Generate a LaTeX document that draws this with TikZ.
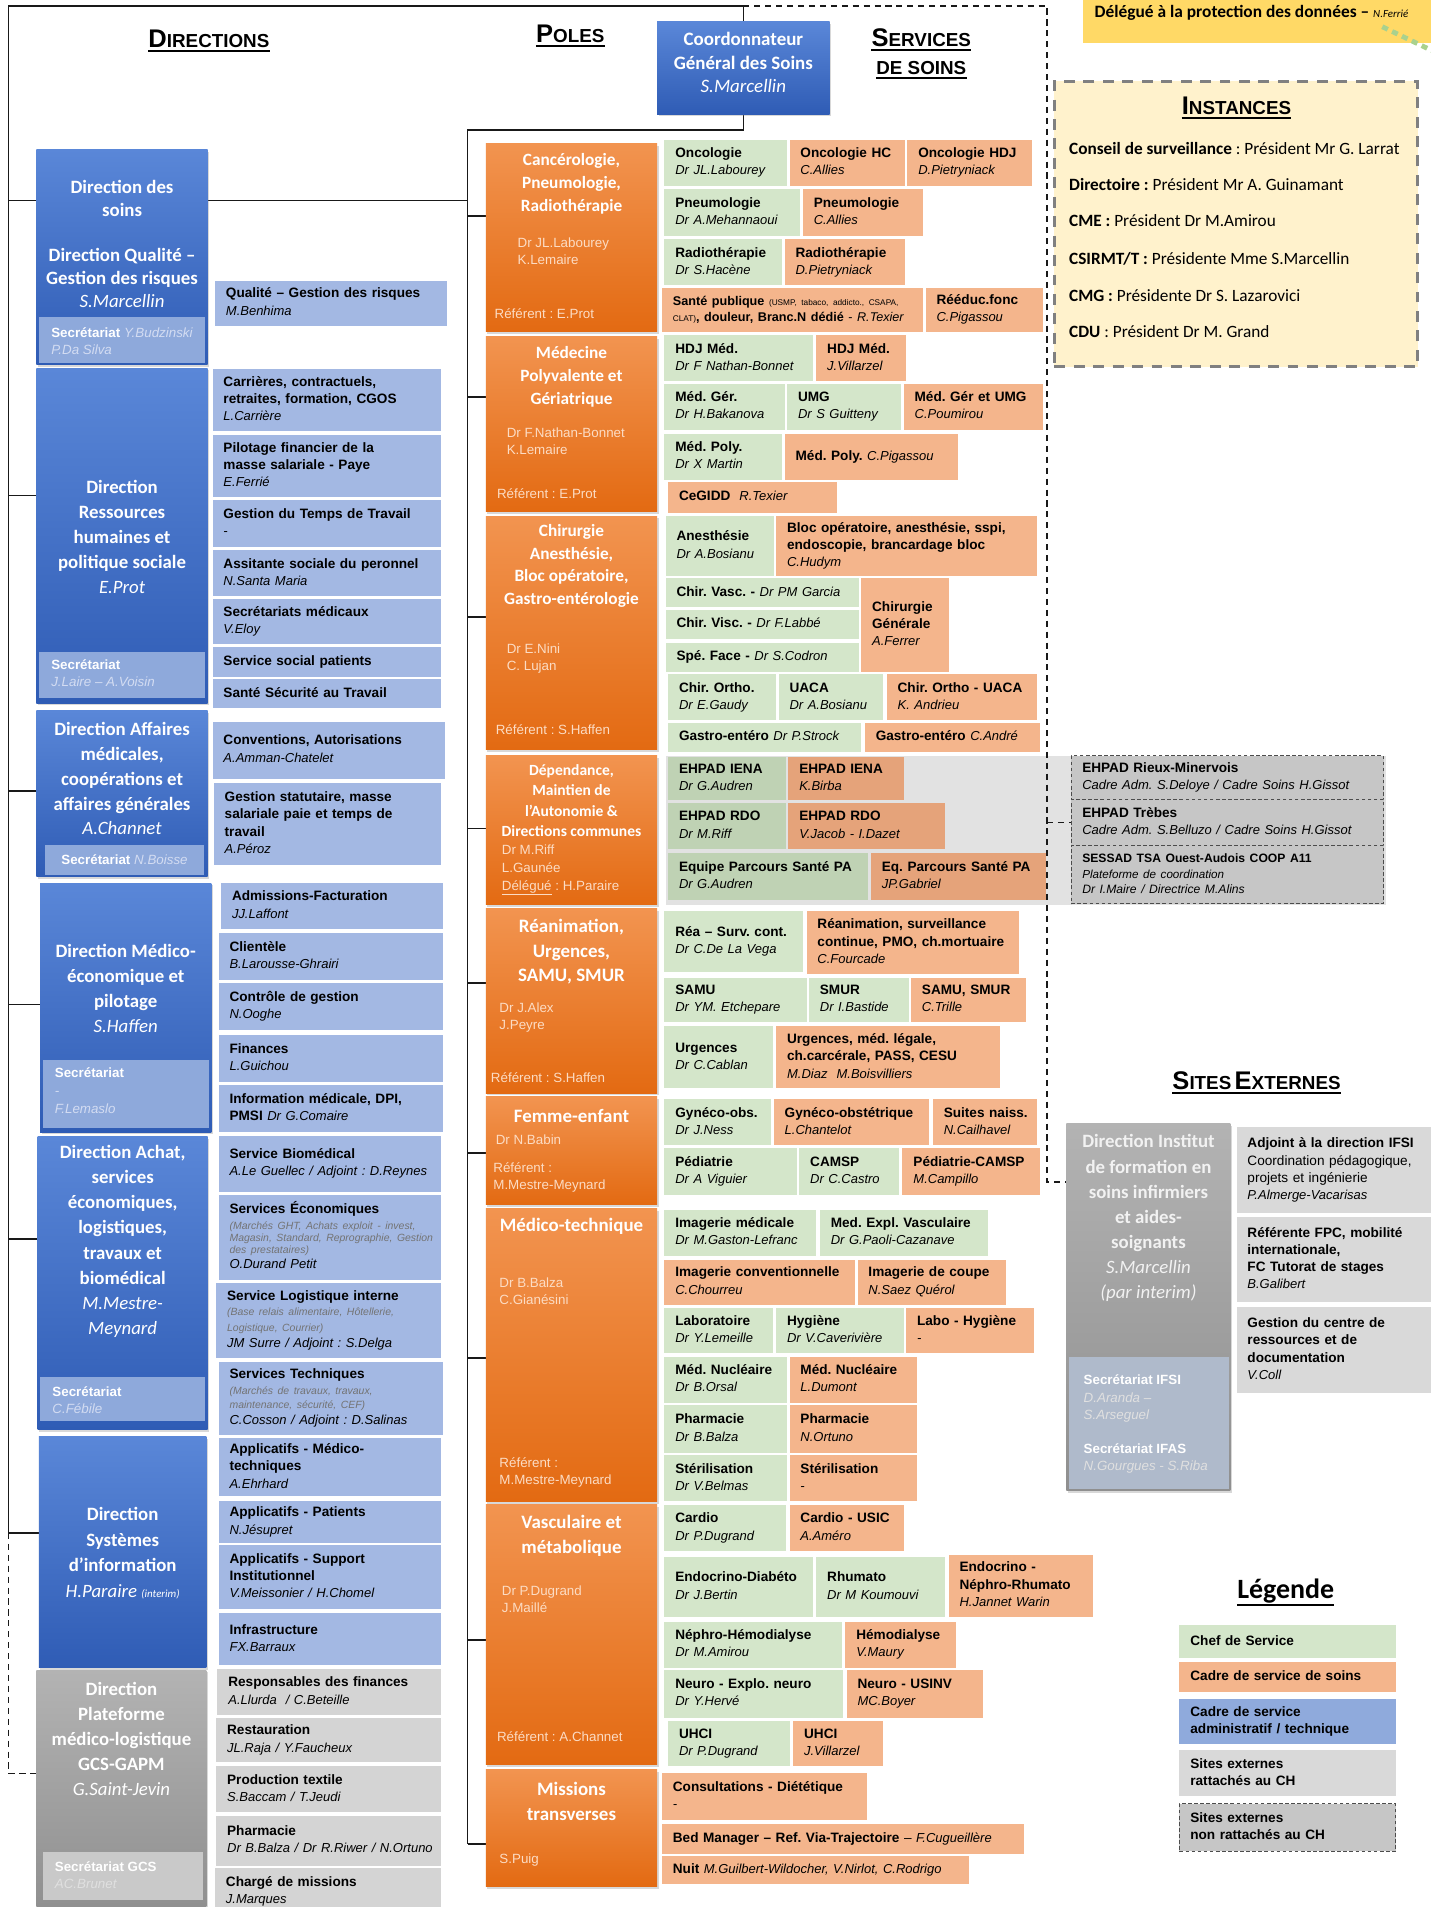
\documentclass[tikz,border=0pt]{standalone}
\usepackage{fontspec}
\setmainfont{Liberation Sans}
\newfontfamily\calib{Carlito}
\usepackage{array}
\usetikzlibrary{backgrounds,shadows}
\frenchspacing
\definecolor{dblueT}{HTML}{5A87D8}
\definecolor{dblueB}{HTML}{2F5CB5}
\definecolor{sblue}{HTML}{A3B8E3}
\definecolor{lblue}{HTML}{8FAADC}
\definecolor{secblue}{HTML}{8EA9DB}
\definecolor{secnm}{HTML}{D3DCF2}
\definecolor{orT}{HTML}{F29450}
\definecolor{orB}{HTML}{E36A12}
\definecolor{pnamec}{HTML}{FCDCC4}
\definecolor{sgreen}{HTML}{D4E6CA}
\definecolor{ssalmon}{HTML}{F4B58C}
\definecolor{sgreenD}{HTML}{BFD2B4}
\definecolor{ssalmonD}{HTML}{E5A37A}
\definecolor{band}{HTML}{E2E2E2}
\definecolor{extgrey}{HTML}{C6C6C6}
\definecolor{sgrey}{HTML}{D4D4D4}
\definecolor{sgrey2}{HTML}{D9D9D9}
\definecolor{gT}{HTML}{B3B3B3}
\definecolor{gB}{HTML}{8F8F8F}
\definecolor{gsec}{HTML}{C9C9C9}
\definecolor{ifsisec}{HTML}{AFBACB}
\definecolor{cream}{HTML}{FFF2CC}
\definecolor{yell}{HTML}{FFD966}
\definecolor{dotgreen}{HTML}{A9D18E}
\newcommand\svcf{\fontsize{11.2}{14.2}\selectfont}
\newcommand\Bx[1]{\textbf{#1}}
\newcommand\Ix[1]{{\fontsize{10.7}{13}\selectfont\itshape #1}}
\newcommand\smg[1]{{\fontsize{8.6}{10}\selectfont\color{black!55}\itshape #1}}
\newcommand\nm[1]{{\mdseries\itshape #1}}
\newcommand\Sx[1]{{\itshape\color{secnm}#1}}
\newcommand\Gx[1]{{\itshape\color{white!88!black}#1}}
\newcommand\hdsc[2]{{\fontsize{21}{21}\selectfont #1}{\fontsize{15.5}{15.5}\selectfont #2}}
\newcommand\svc[7]{%
 \pgfmathsetmacro\bxc{(#2+#3)/2}\pgfmathsetmacro\byc{(#4+#5)/2}%
 \pgfmathsetmacro\bw{#3-#2}\pgfmathsetmacro\bh{#5-#4}\pgfmathsetmacro\btw{#3-#2-18}%
 \node[svcnode, fill=#6, minimum width=\bw pt, minimum height=\bh pt, text width=\btw pt] (#1) at (\bxc,\byc) {\noindent\begin{tabular}{@{}l@{}}#7\end{tabular}};}
\newcommand\bigb[6]{%
 \pgfmathsetmacro\bxc{(#2+#3)/2}\pgfmathsetmacro\byc{(#4+#5)/2}%
 \pgfmathsetmacro\bw{#3-#2}\pgfmathsetmacro\bh{#5-#4}%
 \node[#6, minimum width=\bw pt, minimum height=\bh pt, inner sep=0pt] (#1) at (\bxc,\byc) {};}
\tikzset{
 svcnode/.style={draw=none, inner xsep=9pt, inner ysep=0pt, align=left, font=\svcf},
 shad/.style={drop shadow={shadow xshift=1.2pt, shadow yshift=-1.8pt, opacity=0.3}},
 dirbox/.style={top color=dblueT, bottom color=dblueB, draw=none, shad},
 polebox/.style={top color=orT, bottom color=orB, draw=none, shad},
 greybox/.style={top color=gT, bottom color=gB, draw=none, shad},
 secb/.style={fill=secblue},
 secg/.style={fill=gsec},
 dtit/.style={font=\calib\bfseries\fontsize{15.5}{20.5}\selectfont, text=white, align=center, inner sep=0pt},
 ptit14/.style={dtit, font=\calib\bfseries\fontsize{14.2}{19}\selectfont},
 ptit12/.style={dtit, font=\calib\bfseries\fontsize{12.8}{16.7}\selectfont},
 ptit15/.style={dtit, font=\calib\bfseries\fontsize{15.6}{20.5}\selectfont},
 pnm/.style={font=\fontsize{11}{14}\selectfont, text=pnamec, align=left, inner sep=0pt, anchor=west},
 sect/.style={font=\fontsize{11}{14}\selectfont, text=white, align=left, inner sep=0pt, anchor=west},
 hdr/.style={font=\bfseries, inner sep=0pt},
 uln/.style={line width=1.5pt},
 instbox/.style={fill=cream, draw=black!50, line width=2.4pt, dash pattern=on 9pt off 7pt},
 instl/.style={anchor=west, inner sep=0pt, font=\calib\fontsize{14.2}{17}\selectfont},
 extb/.style={draw=black!70, dash pattern=on 3pt off 2pt, line width=0.9pt},
 conn/.style={line width=1.4pt, black!90},
 dconn/.style={line width=1.2pt, black!90, dash pattern=on 5pt off 4pt},
}
\begin{document}
\begin{tikzpicture}[x=1pt,y=-1pt]
\useasboundingbox (0,0) rectangle (1178,1570);
% ---------- headers
\node[hdr] (hdir) at (172,32) {\hdsc{D}{IRECTIONS}};
\node[hdr] (hpol) at (469.5,28) {\hdsc{P}{OLES}};
\node[hdr] (hser) at (758.5,31) {\hdsc{S}{ERVICES}};
\node[hdr, font=\bfseries\fontsize{15.5}{15.5}\selectfont] (hdes) at (758.5,56) {DE SOINS};
\draw[uln] ([yshift=-2.5pt]hdir.south west) -- ([yshift=-2.5pt]hdir.south east);
\draw[uln] ([yshift=-2.5pt]hpol.south west) -- ([yshift=-2.5pt]hpol.south east);
\draw[uln] ([yshift=-2.5pt]hser.south west) -- ([yshift=-2.5pt]hser.south east);
\draw[uln] ([yshift=-2.5pt]hdes.south west) -- ([yshift=-2.5pt]hdes.south east);
% ---------- coordonnateur
\bigb{coord}{541}{683}{18}{94}{dirbox}
\node[dtit, font=\calib\bfseries\fontsize{15.6}{19.5}\selectfont] (coordT) at (612,51.5) {Coordonnateur\\Général des Soins\\\nm{S.Marcellin}};
% ---------- directions
\bigb{dsoins}{30}{171}{123}{300}{dirbox}
\bigb{dsoinsS}{32}{169}{261}{299}{secb}
\node[dtit, font=\calib\bfseries\fontsize{15.5}{19}\selectfont] (dsoinsT) at (100.5,163.5) {Direction des\\soins};
\node[dtit, font=\calib\bfseries\fontsize{15.5}{19}\selectfont] (dsoinsQ) at (100.5,229) {Direction Qualité –\\Gestion des risques\\\nm{S.Marcellin}};
\node[sect] (dsoinsST) at (42,281) {\textbf{Secrétariat} \Sx{Y.Budzinski}\\\Sx{P.Da Silva}};

\bigb{drh}{30}{171}{303}{579}{dirbox}
\bigb{drhS}{32}{169}{537}{575}{secb}
\node[dtit] (drhT) at (100.5,442) {Direction\\Ressources\\humaines et\\politique sociale\\\nm{E.Prot}};
\node[sect] (drhST) at (42,554.5) {\textbf{Secrétariat}\\\Sx{J.Laire – A.Voisin}};

\bigb{daff}{30}{171}{585}{722}{dirbox}
\bigb{daffS}{37}{168}{696}{720}{secb}
\node[dtit] (daffT) at (100.5,641) {Direction Affaires\\médicales,\\coopérations et\\affaires générales\\\nm{A.Channet}};
\node[sect, anchor=center] (daffST) at (102.5,708) {\textbf{Secrétariat} \Sx{N.Boisse}};

\bigb{dmed}{33}{174}{727}{932}{dirbox}
\bigb{dmedS}{35}{172}{873}{929}{secb}
\node[dtit] (dmedT) at (103.5,814) {Direction Médico-\\économique et\\pilotage\\\nm{S.Haffen}};
\node[sect, font=\fontsize{11}{15}\selectfont] (dmedST) at (45,898) {\textbf{Secrétariat}\\\Sx{-}\\\Sx{F.Lemaslo}};

\bigb{dach}{31}{171}{936}{1177}{dirbox}
\bigb{dachS}{33}{169}{1134}{1170}{secb}
\node[dtit, font=\calib\bfseries\fontsize{15.5}{20.6}\selectfont] (dachT) at (101,1022) {Direction Achat,\\services\\économiques,\\logistiques,\\travaux et\\biomédical\\\nm{M.Mestre-}\\\nm{Meynard}};
\node[sect] (dachST) at (43,1153) {\textbf{Secrétariat}\\\Sx{C.Fébile}};

\bigb{dsi}{32}{170}{1183}{1373}{dirbox}
\node[dtit, font=\calib\bfseries\fontsize{15.5}{21}\selectfont] (dsiT) at (101,1278.5) {Direction\\Systèmes\\d’information\\\nm{H.Paraire {\fontsize{9}{9}\selectfont (interim)}}};

\bigb{dgcs}{30}{170}{1375}{1575}{greybox}
\bigb{dgcsS}{35}{167}{1525}{1564}{secg}
\node[dtit, font=\calib\bfseries\fontsize{15.5}{20.7}\selectfont] (dgcsT) at (100,1431.5) {Direction\\Plateforme\\médico-logistique\\GCS-GAPM\\\nm{G.Saint-Jevin}};
\node[sect] (dgcsST) at (45,1544) {\textbf{Secrétariat GCS}\\\Gx{AC.Brunet}};

% ---------- direction services
\svc{q1}{177}{368}{231}{268}{sblue}{\Bx{Qualité – Gestion des risques}\\\Ix{M.Benhima}}
\svc{rh1}{175}{363}{304}{355}{sblue}{\Bx{Carrières, contractuels,}\\\Bx{retraites, formation, CGOS}\\\Ix{L.Carrière}}
\svc{rh2}{175}{363}{358}{409}{sblue}{\Bx{Pilotage financier de la}\\\Bx{masse salariale - Paye}\\\Ix{E.Ferrié}}
\svc{rh3}{175}{363}{412}{450}{sblue}{\Bx{Gestion du Temps de Travail}\\\Ix{-}}
\svc{rh4}{175}{363}{453}{491}{sblue}{\Bx{Assitante sociale du peronnel}\\\Ix{N.Santa Maria}}
\svc{rh5}{175}{363}{493}{530}{sblue}{\Bx{Secrétariats médicaux}\\\Ix{V.Eloy}}
\svc{rh6}{175}{363}{533}{557}{sblue}{\Bx{Service social patients}}
\svc{rh7}{175}{363}{559}{583}{sblue}{\Bx{Santé Sécurité au Travail}}
\svc{af1}{175}{366}{594}{641}{sblue}{\Bx{Conventions, Autorisations}\\\Ix{A.Amman-Chatelet}}
\svc{af2}{176}{363}{645}{712}{sblue}{\Bx{Gestion statutaire, masse}\\\Bx{salariale paie et temps de}\\\Bx{travail}\\\Ix{A.Péroz}}
\svc{me1}{182}{365}{727}{765}{sblue}{\Bx{Admissions-Facturation}\\\Ix{JJ.Laffont}}
\svc{me2}{180}{365}{768}{807}{sblue}{\Bx{Clientèle}\\\Ix{B.Larousse-Ghrairi}}
\svc{me3}{180}{365}{809}{848}{sblue}{\Bx{Contrôle de gestion}\\\Ix{N.Ooghe}}
\svc{me4}{180}{365}{852}{891}{sblue}{\Bx{Finances}\\\Ix{L.Guichou}}
\svc{me5}{180}{365}{893}{932}{sblue}{\Bx{Information médicale, DPI,}\\\Bx{PMSI} \Ix{Dr G.Comaire}}
\svc{ac1}{180}{363}{935}{981}{sblue}{\Bx{Service Biomédical}\\\Ix{A.Le Guellec / Adjoint : D.Reynes}}
\svc{ac2}{180}{363}{984}{1054}{sblue}{\Bx{Services Économiques}\\[-1.5pt]\smg{(Marchés GHT, Achats exploit - invest,}\\[-4.2pt]\smg{Magasin, Standard, Reprographie, Gestion}\\[-4.2pt]\smg{des prestataires)}\\[-1.5pt]\Ix{O.Durand Petit}}
\svc{ac3}{178}{363}{1056}{1118}{sblue}{\Bx{Service Logistique interne}\\[-1.2pt]\smg{(Base relais alimentaire, Hôtellerie,}\\[-1.2pt]\smg{Logistique, Courrier)}\\[-1.2pt]\Ix{JM Surre / Adjoint : S.Delga}}
\svc{ac4}{180}{365}{1121}{1181}{sblue}{\Bx{Services Techniques}\\[-1.2pt]\smg{(Marchés de travaux, travaux,}\\[-2pt]\smg{maintenance, sécurité, CEF)}\\[-1.2pt]\Ix{C.Cosson / Adjoint : D.Salinas}}
\svc{si1}{180}{363}{1184}{1232}{sblue}{\Bx{Applicatifs - Médico-}\\\Bx{techniques}\\\Ix{A.Ehrhard}}
\svc{si2}{180}{363}{1236}{1270}{sblue}{\Bx{Applicatifs - Patients}\\\Ix{N.Jésupret}}
\svc{si3}{180}{363}{1272}{1325}{sblue}{\Bx{Applicatifs - Support}\\\Bx{Institutionnel}\\\Ix{V.Meissonier / H.Chomel}}
\svc{si4}{180}{363}{1328}{1371}{sblue}{\Bx{Infrastructure}\\\Ix{FX.Barraux}}
\svc{g1}{179}{363}{1374}{1412}{sgrey}{\Bx{Responsables des finances}\\\Ix{A.Llurda \ / C.Beteille}}
\svc{g2}{178}{363}{1414}{1451}{sgrey}{\Bx{Restauration}\\\Ix{JL.Raja / Y.Faucheux}}
\svc{g3}{178}{363}{1454}{1492}{sgrey}{\Bx{Production textile}\\\Ix{S.Baccam / T.Jeudi}}
\svc{g4}{178}{363}{1495}{1536}{sgrey}{\Bx{Pharmacie}\\\Ix{Dr B.Balza / Dr R.Riwer / N.Ortuno}}
\svc{g5}{177}{363}{1538}{1577}{sgrey}{\Bx{Chargé de missions}\\\Ix{J.Marques}}

% ---------- poles
\bigb{pcan}{400}{541}{118}{273}{polebox}
\node[ptit14] (pcanT) at (470.5,151) {Cancérologie,\\Pneumologie,\\Radiothérapie};
\node[pnm] (pcanN) at (426,207) {Dr JL.Labourey\\K.Lemaire};
\node[pnm] (pcanR) at (407,258) {Référent : E.Prot};

\bigb{pmed}{400}{541}{277}{421}{polebox}
\node[ptit14] (pmedT) at (470.5,310) {Médecine\\Polyvalente et\\Gériatrique};
\node[pnm] (pmedN) at (417,363) {Dr F.Nathan-Bonnet\\K.Lemaire};
\node[pnm] (pmedR) at (409,406) {Référent : E.Prot};

\bigb{pchi}{400}{541}{425}{617}{polebox}
\node[ptit14, font=\calib\bfseries\fontsize{14.2}{18.7}\selectfont] (pchiT) at (470.5,466) {Chirurgie\\Anesthésie,\\Bloc opératoire,\\Gastro-entérologie};
\node[pnm] (pchiN) at (417,542) {Dr E.Nini\\C. Lujan};
\node[pnm] (pchiR) at (408,601) {Référent : S.Haffen};

\bigb{pdep}{400}{541}{622}{745}{polebox}
\node[ptit12] (pdepT) at (470.5,659) {Dépendance,\\Maintien de\\l’Autonomie \&\\Directions communes};
\node[pnm, font=\fontsize{11}{14.5}\selectfont] (pdepN) at (413,716.5) {Dr M.Riff\\L.Gaunée\\\underline{Délégué} : H.Paraire};

\bigb{prea}{400}{541}{748}{900}{polebox}
\node[ptit15] (preaT) at (470.5,783.5) {Réanimation,\\Urgences,\\SAMU, SMUR};
\node[pnm] (preaN) at (411,838) {Dr J.Alex\\J.Peyre};
\node[pnm] (preaR) at (404,887) {Référent : S.Haffen};

\bigb{pfem}{400}{541}{903}{992}{polebox}
\node[ptit15] (pfemT) at (470.5,919) {Femme-enfant};
\node[pnm] (pfemN) at (408,938) {Dr N.Babin};
\node[pnm] (pfemR) at (406,969) {Référent :\\M.Mestre-Meynard};

\bigb{pmt}{400}{541}{995}{1236}{polebox}
\node[ptit15] (pmtT) at (470.5,1010) {Médico-technique};
\node[pnm] (pmtN) at (411,1063) {Dr B.Balza\\C.Gianésini};
\node[pnm] (pmtR) at (411,1212) {Référent :\\M.Mestre-Meynard};

\bigb{pvas}{400}{541}{1239}{1453}{polebox}
\node[ptit15, font=\calib\bfseries\fontsize{15.6}{21}\selectfont] (pvasT) at (470.5,1264.5) {Vasculaire et\\métabolique};
\node[pnm] (pvasN) at (413,1316.5) {Dr P.Dugrand\\J.Maillé};
\node[pnm] (pvasR) at (409,1430) {Référent : A.Channet};

\bigb{pmis}{400}{541}{1457}{1553}{polebox}
\node[ptit15, font=\calib\bfseries\fontsize{15.6}{20}\selectfont] (pmisT) at (470.5,1483) {Missions\\transverses};
\node[pnm] (pmisN) at (411,1531) {S.Puig};

% ---------- services de soins
\svc{onc1}{547}{648}{115}{153}{sgreen}{\Bx{Oncologie}\\\Ix{Dr JL.Labourey}}
\svc{onc2}{650}{745}{115}{153}{ssalmon}{\Bx{Oncologie HC}\\\Ix{C.Allies}}
\svc{onc3}{747}{850}{115}{153}{ssalmon}{\Bx{Oncologie HDJ}\\\Ix{D.Pietryniack}}
\svc{pne1}{547}{659}{156}{194}{sgreen}{\Bx{Pneumologie}\\\Ix{Dr A.Mehannaoui}}
\svc{pne2}{661}{760}{156}{194}{ssalmon}{\Bx{Pneumologie}\\\Ix{C.Allies}}
\svc{rad1}{547}{644}{197}{235}{sgreen}{\Bx{Radiothérapie}\\\Ix{Dr S.Hacène}}
\svc{rad2}{646}{745}{197}{235}{ssalmon}{\Bx{Radiothérapie}\\\Ix{D.Pietryniack}}
\svc{sp1}{545}{760}{237}{273}{ssalmon}{{\fontsize{10.4}{13}\selectfont\bfseries Santé publique} {\fontsize{6.8}{8}\selectfont (USMP, tabaco, addicto., CSAPA,}\\[-1.2pt]{\fontsize{6.8}{8}\selectfont CLAT)}{\fontsize{10.4}{13}\selectfont\bfseries , douleur, Branc.N dédié} {\fontsize{10.4}{13}\selectfont - \itshape R.Texier}}
\svc{ree}{762}{859}{237}{273}{ssalmon}{\Bx{Rééduc.fonc}\\\Ix{C.Pigassou}}
\svc{hdj1}{547}{669}{276}{314}{sgreen}{\Bx{HDJ Méd.}\\\Ix{Dr F Nathan-Bonnet}}
\svc{hdj2}{672}{746}{276}{314}{ssalmon}{\Bx{HDJ Méd.}\\\Ix{J.Villarzel}}
\svc{mg1}{547}{646}{316}{354}{sgreen}{\Bx{Méd. Gér.}\\\Ix{Dr H.Bakanova}}
\svc{umg}{648}{742}{316}{354}{sgreen}{\Bx{UMG}\\\Ix{Dr S Guitteny}}
\svc{mg2}{744}{859}{316}{354}{ssalmon}{\Bx{Méd. Gér et UMG}\\\Ix{C.Poumirou}}
\svc{mp1}{547}{644}{357}{395}{sgreen}{\Bx{Méd. Poly.}\\\Ix{Dr X Martin}}
\svc{mp2}{646}{789}{357}{395}{ssalmon}{\Bx{Méd. Poly.} \Ix{C.Pigassou}}
\svc{ceg}{550}{689}{397}{422}{ssalmon}{\Bx{CeGIDD} \ \Ix{R.Texier}}
\svc{ane}{548}{637}{425}{474}{sgreen}{\Bx{Anesthésie}\\\Ix{Dr A.Bosianu}}
\svc{bloc}{639}{854}{425}{474}{ssalmon}{\Bx{Bloc opératoire, anesthésie, sspi,}\\\Bx{endoscopie, brancardage bloc}\\\Ix{C.Hudym}}
\svc{cvasc}{548}{707}{476}{500}{sgreen}{\Bx{Chir. Vasc. -} \Ix{Dr PM Garcia}}
\svc{cvisc}{548}{707}{502}{526}{sgreen}{\Bx{Chir. Visc. -} \Ix{Dr F.Labbé}}
\svc{spef}{548}{707}{529}{553}{sgreen}{\Bx{Spé. Face -} \Ix{Dr S.Codron}}
\svc{cgen}{709}{781}{476}{553}{ssalmon}{\Bx{Chirurgie}\\\Bx{Générale}\\\Ix{A.Ferrer}}
\svc{cor1}{550}{639}{555}{593}{sgreen}{\Bx{Chir. Ortho.}\\\Ix{Dr E.Gaudy}}
\svc{uaca}{641}{727}{555}{593}{sgreen}{\Bx{UACA}\\\Ix{Dr A.Bosianu}}
\svc{cor2}{730}{854}{555}{593}{ssalmon}{\Bx{Chir. Ortho - UACA}\\\Ix{K. Andrieu}}
\svc{gas1}{550}{709}{595}{619}{sgreen}{\Bx{Gastro-entéro} \Ix{Dr P.Strock}}
\svc{gas2}{712}{856}{595}{619}{ssalmon}{\Bx{Gastro-entéro} \Ix{C.André}}
\svc{eh1}{550}{647}{623}{659}{sgreenD}{\Bx{EHPAD IENA}\\\Ix{Dr G.Audren}}
\svc{eh2}{649}{744}{623}{659}{ssalmonD}{\Bx{EHPAD IENA}\\\Ix{K.Birba}}
\svc{eh3}{550}{647}{661}{699}{sgreenD}{\Bx{EHPAD RDO}\\\Ix{Dr M.Riff}}
\svc{eh4}{649}{778}{661}{699}{ssalmonD}{\Bx{EHPAD RDO}\\\Ix{V.Jacob - I.Dazet}}
\svc{eps1}{550}{715}{702}{741}{sgreenD}{\Bx{Equipe Parcours Santé PA}\\\Ix{Dr G.Audren}}
\svc{eps2}{717}{861}{702}{741}{ssalmonD}{\Bx{Eq. Parcours Santé PA}\\\Ix{JP.Gabriel}}
\svc{rea1}{547}{661}{750}{800}{sgreen}{\Bx{Réa – Surv. cont.}\\\Ix{Dr C.De La Vega}}
\svc{rea2}{664}{839}{750}{802}{ssalmon}{\Bx{Réanimation, surveillance}\\\Bx{continue, PMO, ch.mortuaire}\\\Ix{C.Fourcade}}
\svc{samu1}{547}{664}{805}{841}{sgreen}{\Bx{SAMU}\\\Ix{Dr YM. Etchepare}}
\svc{smur}{666}{748}{805}{841}{sgreen}{\Bx{SMUR}\\\Ix{Dr I.Bastide}}
\svc{samu2}{750}{845}{805}{841}{ssalmon}{\Bx{SAMU, SMUR}\\\Ix{C.Trille}}
\svc{urg1}{547}{636}{845}{896}{sgreen}{\Bx{Urgences}\\\Ix{Dr C.Cablan}}
\svc{urg2}{639}{823}{845}{896}{ssalmon}{\Bx{Urgences, méd. légale,}\\\Bx{ch.carcérale, PASS, CESU}\\\Ix{M.Diaz \ M.Boisvilliers}}
\svc{gyn1}{547}{635}{905}{943}{sgreen}{\Bx{Gynéco-obs.}\\\Ix{Dr J.Ness}}
\svc{gyn2}{637}{765}{905}{943}{ssalmon}{\Bx{Gynéco-obstétrique}\\\Ix{L.Chantelot}}
\svc{sui}{768}{854}{905}{943}{ssalmon}{\Bx{Suites naiss.}\\\Ix{N.Cailhavel}}
\svc{ped1}{547}{656}{945}{984}{sgreen}{\Bx{Pédiatrie}\\\Ix{Dr A Viguier}}
\svc{cam}{658}{740}{945}{984}{sgreen}{\Bx{CAMSP}\\\Ix{Dr C.Castro}}
\svc{ped2}{743}{856}{945}{984}{ssalmon}{\Bx{Pédiatrie-CAMSP}\\\Ix{M.Campillo}}
\svc{img1}{547}{672}{996}{1034}{sgreen}{\Bx{Imagerie médicale}\\\Ix{Dr M.Gaston-Lefranc}}
\svc{mev}{675}{813}{996}{1034}{sgreen}{\Bx{Med. Expl. Vasculaire}\\\Ix{Dr G.Paoli-Cazanave}}
\svc{img2}{547}{704}{1037}{1074}{ssalmon}{\Bx{Imagerie conventionnelle}\\\Ix{C.Chourreu}}
\svc{img3}{706}{828}{1037}{1074}{ssalmon}{\Bx{Imagerie de coupe}\\\Ix{N.Saez Quérol}}
\svc{lab}{547}{636}{1077}{1114}{sgreen}{\Bx{Laboratoire}\\\Ix{Dr Y.Lemeille}}
\svc{hyg}{639}{744}{1077}{1114}{sgreen}{\Bx{Hygiène}\\\Ix{Dr V.Caverivière}}
\svc{labh}{746}{851}{1077}{1114}{ssalmon}{\Bx{Labo - Hygiène}\\\Ix{-}}
\svc{nuc1}{547}{648}{1117}{1155}{sgreen}{\Bx{Méd. Nucléaire}\\\Ix{Dr B.Orsal}}
\svc{nuc2}{650}{755}{1117}{1155}{ssalmon}{\Bx{Méd. Nucléaire}\\\Ix{L.Dumont}}
\svc{ph1}{547}{648}{1157}{1196}{sgreen}{\Bx{Pharmacie}\\\Ix{Dr B.Balza}}
\svc{ph2}{650}{755}{1157}{1196}{ssalmon}{\Bx{Pharmacie}\\\Ix{N.Ortuno}}
\svc{ste1}{547}{648}{1198}{1236}{sgreen}{\Bx{Stérilisation}\\\Ix{Dr V.Belmas}}
\svc{ste2}{650}{755}{1198}{1236}{ssalmon}{\Bx{Stérilisation}\\\Ix{-}}
\svc{car1}{547}{647}{1239}{1277}{sgreen}{\Bx{Cardio}\\\Ix{Dr P.Dugrand}}
\svc{car2}{650}{744}{1239}{1277}{ssalmon}{\Bx{Cardio - USIC}\\\Ix{A.Améro}}
\svc{end1}{547}{669}{1282}{1331}{sgreen}{\Bx{Endocrino-Diabéto}\\\Ix{Dr J.Bertin}}
\svc{rhu}{672}{778}{1282}{1331}{sgreen}{\Bx{Rhumato}\\\Ix{Dr M Koumouvi}}
\svc{end2}{781}{900}{1280}{1331}{ssalmon}{\Bx{Endocrino -}\\\Bx{Néphro-Rhumato}\\\Ix{H.Jannet Warin}}
\svc{nep1}{547}{693}{1335}{1373}{sgreen}{\Bx{Néphro-Hémodialyse}\\\Ix{Dr M.Amirou}}
\svc{nep2}{696}{787}{1335}{1373}{ssalmon}{\Bx{Hémodialyse}\\\Ix{V.Maury}}
\svc{neu1}{547}{694}{1375}{1414}{sgreen}{\Bx{Neuro - Explo. neuro}\\\Ix{Dr Y.Hervé}}
\svc{neu2}{697}{809}{1375}{1414}{ssalmon}{\Bx{Neuro - USINV}\\\Ix{MC.Boyer}}
\svc{uhc1}{550}{650}{1417}{1454}{sgreen}{\Bx{UHCI}\\\Ix{Dr P.Dugrand}}
\svc{uhc2}{653}{727}{1417}{1454}{ssalmon}{\Bx{UHCI}\\\Ix{J.Villarzel}}
\svc{mis1}{545}{714}{1460}{1498}{ssalmon}{\Bx{Consultations - Diététique}\\\Ix{-}}
\svc{mis2}{545}{843}{1502}{1526}{ssalmon}{\Bx{Bed Manager – Ref. Via-Trajectoire} – \Ix{F.Cugueillère}}
\svc{mis3}{545}{798}{1528}{1551}{ssalmon}{\Bx{Nuit} \Ix{M.Guilbert-Wildocher, V.Nirlot, C.Rodrigo}}

% ---------- right column
\bigb{dpo}{892}{1200}{-20}{35}{fill=yell}
\coordinate (dotA) at (1138,22);
\coordinate (dotB) at (1188,46);
\draw[dotgreen, line width=4pt, dash pattern=on 5pt off 4pt] (dotA) -- (dotB);
\node[anchor=base west, inner sep=0pt, font=\calib\bfseries\fontsize{14.3}{17}\selectfont] (dpoT) at (901,14) {Délégué à la protection des données – {\mdseries\itshape\fontsize{9}{9}\selectfont N.Ferrié}};

\bigb{inst}{868}{1167}{67}{302}{instbox}
\node[hdr] (instT) at (1018,87) {\hdsc{I}{NSTANCES}};
\draw[uln] ([yshift=-2.5pt]instT.south west) -- ([yshift=-2.5pt]instT.south east);
\node[instl] (i1) at (880,122) {\textbf{Conseil de surveillance} : Président Mr G. Larrat};
\node[instl] (i2) at (880,152) {\textbf{Directoire :} Président Mr A. Guinamant};
\node[instl] (i3) at (880,182) {\textbf{CME :} Président Dr M.Amirou};
\node[instl] (i4) at (880,213) {\textbf{CSIRMT/T :} Présidente Mme S.Marcellin};
\node[instl] (i5) at (880,243) {\textbf{CMG :} Présidente Dr S. Lazarovici};
\node[instl] (i6) at (880,273) {\textbf{CDU} : Président Dr M. Grand};

\svc{ex1}{882}{1139}{622}{658}{extgrey,extb}{\Bx{EHPAD Rieux-Minervois}\\\Ix{Cadre Adm. S.Deloye / Cadre Soins H.Gissot}}
\svc{ex2}{882}{1139}{658}{696}{extgrey,extb}{\Bx{EHPAD Trèbes}\\\Ix{Cadre Adm. S.Belluzo / Cadre Soins H.Gissot}}
\svc{ex3}{882}{1139}{696}{744}{extgrey,extb}{{\fontsize{10}{12}\selectfont\bfseries SESSAD TSA Ouest-Audois COOP A11}\\[-1.2pt]{\fontsize{9.6}{12}\selectfont\itshape Plateforme de coordination}\\[-1.2pt]{\fontsize{10}{12}\selectfont\itshape Dr I.Maire / Directrice M.Alins}}

\node[hdr] (sitesT) at (1034.5,890) {\hdsc{S}{ITES} \hdsc{E}{XTERNES}};
\draw[uln] ([yshift=-2.5pt]sitesT.south west) -- ([yshift=-2.5pt]sitesT.south east);

\bigb{ifsi}{878}{1013}{925}{1227}{greybox}
\bigb{ifsiS}{880}{1012}{1117}{1226}{fill=ifsisec}
\node[dtit, text=white!95!black, font=\calib\bfseries\fontsize{15.5}{20.7}\selectfont] (ifsiT) at (945.5,1003) {Direction Institut\\de formation en\\soins infirmiers\\et aides-\\soignants\\\nm{S.Marcellin}\\\nm{(par interim)}};
\node[sect, font=\fontsize{11}{14.5}\selectfont] (ifsiS1) at (892,1151.5) {\textbf{Secrétariat IFSI}\\\Gx{D.Aranda –}\\\Gx{S.Arseguel}};
\node[sect] (ifsiS2) at (892,1201) {\textbf{Secrétariat IFAS}\\\Gx{N.Gourgues - S.Riba}};

\svc{if1}{1018}{1180}{928}{999}{sgrey2}{\Bx{Adjoint à la direction IFSI}\\Coordination pédagogique,\\projets et ingénierie\\\Ix{P.Almerge-Vacarisas}}
\svc{if2}{1018}{1180}{1002}{1072}{sgrey2}{\Bx{Référente FPC, mobilité}\\\Bx{internationale,}\\\Bx{FC Tutorat de stages}\\\Ix{B.Galibert}}
\svc{if3}{1018}{1180}{1076}{1147}{sgrey2}{\Bx{Gestion du centre de}\\\Bx{ressources et de}\\\Bx{documentation}\\\Ix{V.Coll}}

\node[inner sep=0pt, font=\calib\bfseries\fontsize{23}{23}\selectfont] (legT) at (1058.5,1310) {Légende};
\draw[uln] ([yshift=-1pt]legT.south west) -- ([yshift=-1pt]legT.south east);
\svc{lg1}{971}{1149}{1338}{1365}{sgreen}{\Bx{Chef de Service}}
\svc{lg2}{971}{1149}{1368}{1393}{ssalmon}{\Bx{Cadre de service de soins}}
\svc{lg3}{971}{1149}{1399}{1436}{lblue}{\Bx{Cadre de service}\\\Bx{administratif / technique}}
\svc{lg4}{971}{1149}{1441}{1479}{sgrey2}{\Bx{Sites externes}\\\Bx{rattachés au CH}}
\svc{lg5}{971}{1149}{1485}{1524}{extgrey,extb}{\Bx{Sites externes}\\\Bx{non rattachés au CH}}

% ---------- connectors (background)
\begin{pgfonlayer}{background}
\fill[white] (0,0) rectangle (1178,1570);
\fill[band] (548,622) rectangle (1141,745);
\coordinate (LT) at (7,5);
\coordinate (lb1) at (7,165);
\coordinate (lb2) at (7,408);
\coordinate (lb3) at (7,651);
\coordinate (lb4) at (7,827);
\coordinate (lb5) at (7,1020);
\coordinate (lb6) at (7,1262);
\coordinate (lb7) at (7,1460);
\coordinate (PT) at (385,107);
\coordinate (pb1) at (385,178);
\coordinate (pb2) at (385,327);
\coordinate (pb3) at (385,508);
\coordinate (pb4) at (385,682);
\coordinate (pb5) at (385,809);
\coordinate (pb6) at (385,949);
\coordinate (pb7) at (385,1118);
\coordinate (pb8) at (385,1350);
\coordinate (pb9) at (385,1518);
\coordinate (DR) at (862,5);
\coordinate (DB) at (862,973);
\draw[conn] (lb6) -- (LT) -- (LT -| coord.north) -- (coord.north);
\draw[conn] (coord.south) -- (coord.south |- PT) -- (PT) -- (pb9);
\draw[conn] (lb1) -- (lb1 -| PT);
\draw[conn] (lb2) -- (lb2 -| drh.west);
\draw[conn] (lb3) -- (lb3 -| daff.west);
\draw[conn] (lb4) -- (lb4 -| dmed.west);
\draw[conn] (lb5) -- (lb5 -| dach.west);
\draw[conn] (lb6) -- (lb6 -| dsi.west);
\draw[dconn] (lb6) -- (lb7) -- (lb7 -| dgcs.west);
\draw[conn] (pb1) -- (pb1 -| pcan.west);
\draw[conn] (pb2) -- (pb2 -| pmed.west);
\draw[conn] (pb3) -- (pb3 -| pchi.west);
\draw[conn] (pb4) -- (pb4 -| pdep.west);
\draw[conn] (pb5) -- (pb5 -| prea.west);
\draw[conn] (pb6) -- (pb6 -| pfem.west);
\draw[conn] (pb7) -- (pb7 -| pmt.west);
\draw[conn] (pb8) -- (pb8 -| pvas.west);
\draw[conn] (pb9) -- (pb9 -| pmis.west);
\draw[dconn] (LT -| coord.north) -- (DR) -- (DB) -- (DB -| ifsi.west);
\draw[dconn] (ex2.west -| DR) -- (ex2.west);
\end{pgfonlayer}
\end{tikzpicture}
\end{document}
